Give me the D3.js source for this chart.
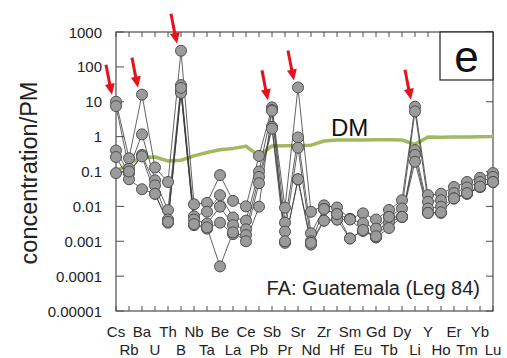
<!DOCTYPE html>
<html>
<head>
<meta charset="utf-8">
<script src="https://cdn.jsdelivr.net/npm/d3@7"></script>
<style>
  body { margin: 0; background: #fff; }
  svg { display: block; font-family: "Liberation Sans", Arial, sans-serif; }
</style>
</head>
<body>
<div id="chart"></div>
<script>
// elements along the x axis (normalised to primitive mantle)
var elements = ['Cs','Rb','Ba','U','Th','B','Nb','Ta','Be','La','Ce','Pb','Sb','Pr','Sr',
  'Nd','Zr','Hf','Sm','Eu','Gd','Tb','Dy','Li','Y','Ho','Er','Tm','Yb','Lu'];

// depleted mantle reference
var dm = [0.1, 0.17, 0.25, 0.26, 0.2, 0.21, 0.28, 0.35, 0.42, 0.46, 0.53, 0.28, 0.54, 0.55, 0.56,
  0.57, 0.75, 0.8, 0.8, 0.8, 0.82, 0.82, 0.8, 0.6, 0.97, 0.96, 0.97, 0.98, 0.99, 1.0];

// fore-arc samples, Guatemala (Leg 84)
var s1 = [10, 0.24, 16, 0.13, 0.05, 290, 0.0115, 0.0126, 0.079, 0.0144, 0.01, 0.28, 6.9, 0.0092, 25.7,
  0.007, 0.0107, 0.0093, 0.0044, 0.0063, 0.0042, 0.0079, 0.015, 7.2, 0.021, 0.023, 0.036, 0.05, 0.066, 0.09];
var s2 = [7.5, 0.12, 1.16, 0.056, 0.0078, 30, 0.0052, 0.007, 0.021, 0.0048, 0.0039, 0.1, 5.8, 0.0034, 0.95,
  0.0017, 0.0084, 0.006, 0.0043, 0.0033, 0.0023, 0.005, 0.0087, 5.3, 0.0135, 0.015, 0.024, 0.035, 0.05, 0.07];
var s3 = [0.4, 0.088, 0.3, 0.04, 0.0042, 19.6, 0.0042, 0.0032, 0.0098, 0.0029, 0.0022, 0.07, 1.9, 0.0019, 0.48,
  0.001, 0.0039, 0.0042, 0.0042, 0.002, 0.0013, 0.0035, 0.005, 0.41, 0.0087, 0.0098, 0.0167, 0.023, 0.036, 0.05];
var s4 = [0.26, 0.06, 0.031, 0.023, 0.0034, 18, 0.0029, 0.0023, 0.0034, 0.0016, 0.0015, 0.046, 1.7, 0.0009, 0.059,
  0.0008, 0.0039, 0.0042, 0.0012, 0.002, 0.0013, 0.0024, 0.005, 0.3, 0.0065, 0.0065, 0.017, 0.023, 0.036, 0.05];
var s5 = [0.09, 0.1, 0.27, 0.023, 0.0036, 25, 0.0031, 0.0025, 0.00019, 0.0018, 0.001, 0.0098, 5.5, 0.001, 0.06,
  0.0009, 0.0084, 0.006, 0.0012, 0.0021, 0.0014, 0.005, 0.005, 0.19, 0.0065, 0.0068, 0.017, 0.024, 0.037, 0.05];
var samples = [s1, s2, s3, s4, s5];

// peaks marked with red arrows
var arrowAt = ['Cs','Ba','B','Sb','Sr','Li'];

var yTicks = [1000, 100, 10, 1, 0.1, 0.01, 0.001, 0.0001, 0.00001];
var yTickLabels = ['1000','100','10','1','0.1','0.01','0.001','0.0001','0.00001'];

var width = 507, height = 358;
var m = { left: 116, right: 14, top: 32, bottom: 47 };

var svg = d3.select('#chart').append('svg')
  .attr('width', width).attr('height', height);

var x = d3.scalePoint().domain(elements).range([m.left, width - m.right]);
var y = d3.scaleLog().domain([0.00001, 1000]).range([height - m.bottom, m.top]);

var axisColor = '#4d4d4d';

// ticks on all four sides, pointing inwards
var ax = svg.append('g');
ax.selectAll('.tb').data(elements).enter().append('line')
  .attr('x1', d => x(d)).attr('x2', d => x(d))
  .attr('y1', m.top).attr('y2', m.top + 5)
  .attr('stroke', axisColor).attr('stroke-width', 1);
ax.selectAll('.bt').data(elements).enter().append('line')
  .attr('x1', d => x(d)).attr('x2', d => x(d))
  .attr('y1', height - m.bottom).attr('y2', height - m.bottom - 5)
  .attr('stroke', axisColor).attr('stroke-width', 1);
ax.selectAll('.lt').data(yTicks).enter().append('line')
  .attr('x1', m.left).attr('x2', m.left + 8)
  .attr('y1', d => y(d)).attr('y2', d => y(d))
  .attr('stroke', axisColor).attr('stroke-width', 1);
ax.selectAll('.rt').data(yTicks).enter().append('line')
  .attr('x1', width - m.right).attr('x2', width - m.right - 7)
  .attr('y1', d => y(d)).attr('y2', d => y(d))
  .attr('stroke', axisColor).attr('stroke-width', 1);

ax.append('rect')
  .attr('x', m.left).attr('y', m.top)
  .attr('width', width - m.left - m.right).attr('height', height - m.top - m.bottom)
  .attr('fill', 'none').attr('stroke', axisColor).attr('stroke-width', 1.2);

// y tick labels
svg.selectAll('.yl').data(yTicks).enter().append('text')
  .attr('x', 102).attr('y', d => y(d) + 5.5)
  .attr('text-anchor', 'end')
  .attr('font-size', 15).attr('fill', '#222')
  .text((d, i) => yTickLabels[i]);

// x labels, staggered in two rows
svg.selectAll('.xl').data(elements).enter().append('text')
  .attr('x', d => x(d))
  .attr('y', (d, i) => i % 2 === 0 ? 337 : 355)
  .attr('text-anchor', 'middle')
  .attr('font-size', 15).attr('fill', '#222')
  .text(d => d);

svg.append('text')
  .attr('transform', 'translate(37,' + 173 + ') rotate(-90)')
  .attr('text-anchor', 'middle')
  .attr('font-size', 23.5).attr('fill', '#222')
  .text('concentration/PM');

// DM curve
var line = d3.line()
  .x((d, i) => x(elements[i]))
  .y(d => y(d));

svg.append('path')
  .datum(dm)
  .attr('d', line)
  .attr('fill', 'none')
  .attr('stroke', '#a3b961')
  .attr('stroke-width', 3.5)
  .attr('stroke-linejoin', 'round');

// sample lines
svg.selectAll('.sl').data(samples).enter().append('path')
  .attr('d', line)
  .attr('fill', 'none')
  .attr('stroke', '#3a3a3a')
  .attr('stroke-width', 0.8);

// sample points
var pts = [];
samples.forEach(function (s) {
  s.forEach(function (v, i) { pts.push({ el: elements[i], v: v }); });
});
svg.selectAll('.pt').data(pts).enter().append('circle')
  .attr('cx', d => x(d.el))
  .attr('cy', d => y(d.v))
  .attr('r', 5.5)
  .attr('fill', '#9b9b9b')
  .attr('stroke', '#505050')
  .attr('stroke-width', 1);

// red arrows over the peaks
var arrows = arrowAt.map(function (el) {
  var i = elements.indexOf(el);
  var peak = d3.max(samples, s => s[i]);
  return { tx: x(el) - 4, ty: y(peak) - 7 };
});
var ag = svg.selectAll('.arrow').data(arrows).enter().append('g');
ag.append('line')
  .attr('x1', d => d.tx - 6).attr('y1', d => d.ty - 30)
  .attr('x2', d => d.tx - 2).attr('y2', d => d.ty - 9)
  .attr('stroke', '#e3121b').attr('stroke-width', 3);
ag.append('path')
  .attr('d', function (d) {
    // head pointing along the shaft direction (6,30)
    var ux = 6 / Math.hypot(6, 30), uy = 30 / Math.hypot(6, 30);
    var bx = d.tx - ux * 11, by = d.ty - uy * 11;
    var px = -uy * 5, py = ux * 5;
    return 'M' + d.tx + ',' + d.ty + 'L' + (bx + px) + ',' + (by + py) + 'L' + (bx - px) + ',' + (by - py) + 'Z';
  })
  .attr('fill', '#e3121b');

// panel letter
svg.append('rect')
  .attr('x', 440).attr('y', m.top)
  .attr('width', width - m.right - 440).attr('height', 48)
  .attr('fill', '#fff').attr('stroke', '#222').attr('stroke-width', 1.2);
svg.append('text')
  .attr('x', 466.5).attr('y', 72)
  .attr('text-anchor', 'middle')
  .attr('font-size', 44).attr('fill', '#111')
  .text('e');

svg.append('text')
  .attr('x', 331).attr('y', 135.5)
  .attr('font-size', 24).attr('fill', '#111')
  .text('DM');

svg.append('text')
  .attr('x', 480).attr('y', 295)
  .attr('text-anchor', 'end')
  .attr('font-size', 20).attr('fill', '#222')
  .text('FA: Guatemala (Leg 84)');
</script>
</body>
</html>
